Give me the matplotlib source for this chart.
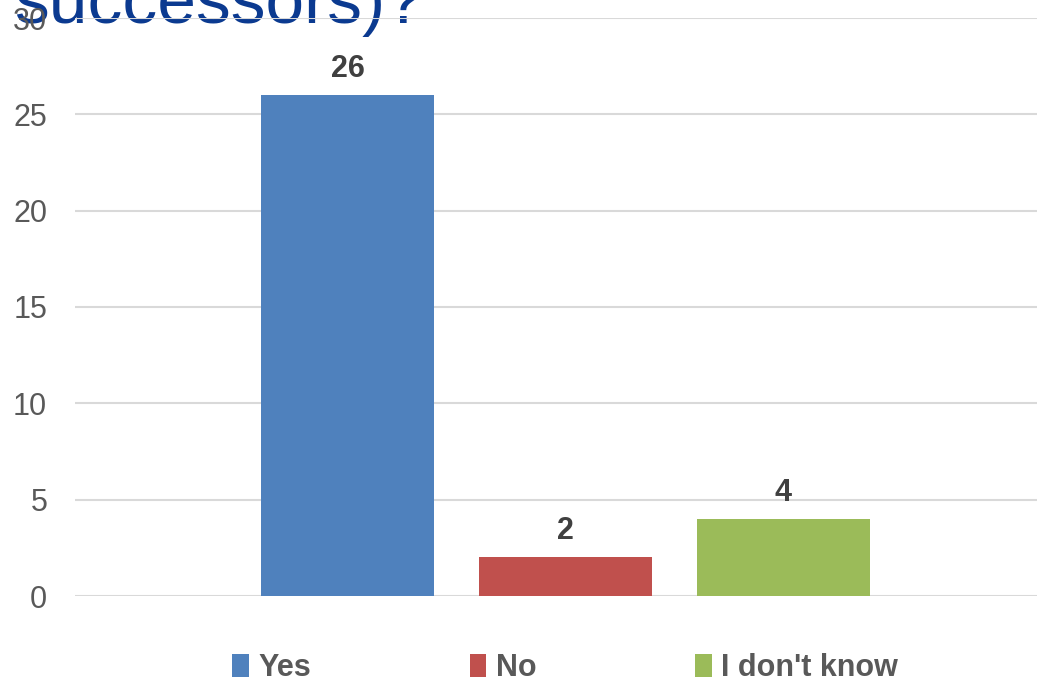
import matplotlib
matplotlib.use("Agg")
import matplotlib.pyplot as plt
from matplotlib.patches import Patch

plt.rcParams['font.family'] = ['Liberation Sans', 'DejaVu Sans']

categories = ["Yes", "No", "I don't know"]
values = [26, 2, 4]
colors = ["#4F81BD", "#C0504D", "#9BBB59"]
yticks = [0, 5, 10, 15, 20, 25, 30]
title_tail = "successors)?"

W, H, DPI = 1037, 682, 100
fig = plt.figure(figsize=(W / DPI, H / DPI), dpi=DPI)

# plot area in pixels
left_px, right_px, top_px, bottom_px = 75, 1056, 18, 596
ax = fig.add_axes([left_px / W, 1 - bottom_px / H,
                   (right_px - left_px) / W, (bottom_px - top_px) / H])
ax.patch.set_alpha(0)

xpos = list(range(len(categories)))
bars = ax.bar(xpos, values, width=0.79, color=colors, zorder=3)

ax.set_xlim(-1.2506, 3.2506)
ax.set_ylim(0, 30)
ax.set_yticks(yticks)
ax.set_xticks([])
ax.grid(axis='y', color='#D9D9D9', linewidth=1.5, zorder=0)
for s in ax.spines.values():
    s.set_visible(False)
ax.tick_params(axis='y', length=0, pad=20, labelsize=22, labelcolor='#595959')

for b, v in zip(bars, values):
    ax.annotate(str(v), (b.get_x() + b.get_width() / 2, v),
                xytext=(0, 8), textcoords='offset points',
                ha='center', va='bottom', fontsize=22, fontweight='bold',
                color='#404040')

handles = [Patch(facecolor=c, edgecolor='none') for c in colors]
leg = fig.legend(handles, categories, loc='center', bbox_to_anchor=(565 / W, 1 - 668 / H),
                 ncol=3, frameon=False, handlelength=0.55, handleheight=0.75,
                 handletextpad=0.3, columnspacing=5.2,
                 prop={'size': 22, 'weight': 'bold'})
for t in leg.get_texts():
    t.set_color('#595959')

# last line of the chart title, partly above the top edge and behind the axes
fig.text(14 / W, 1 - 23 / H, title_tail, fontsize=50, color='#0B3A90',
         ha='left', va='baseline', zorder=-1)

fig.savefig("out.png", dpi=DPI)
